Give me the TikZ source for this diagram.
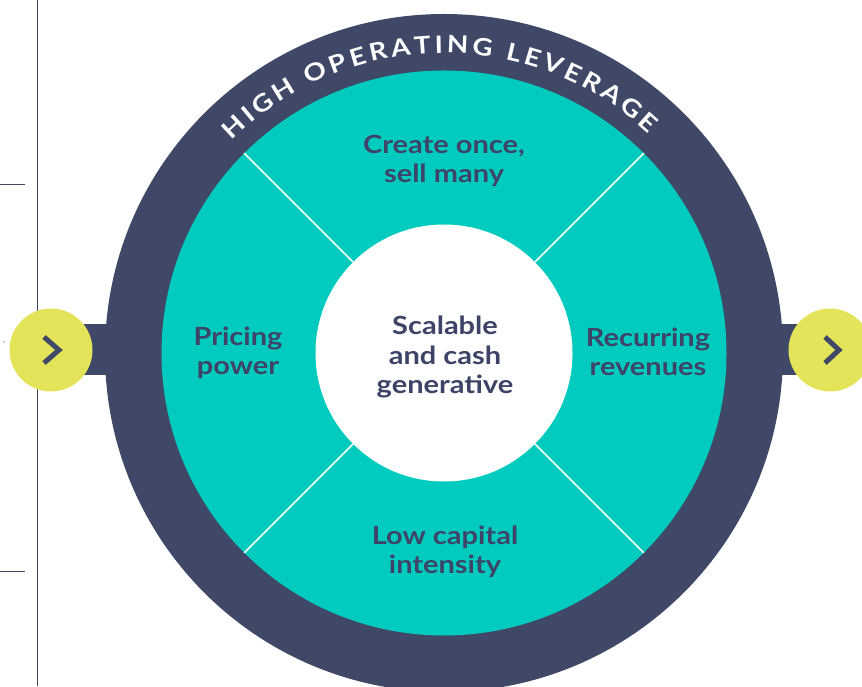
\documentclass[tikz,border=0pt]{standalone}
\usepackage{fontspec}
\setmainfont{Lato}[FakeStretch=1.16]
\usepackage{tikz}
\usetikzlibrary{positioning,decorations.text}

\definecolor{ringnavy}{HTML}{3F4866}
\definecolor{segteal}{HTML}{00CBBE}
\definecolor{btnyellow}{HTML}{E4E45A}
\definecolor{labelnavy}{HTML}{3E4468}

\newcommand\arcfont{\bfseries\fontsize{24}{24}\selectfont}

\begin{document}
\begin{tikzpicture}[x=1pt, y=1pt,
    disc/.style={circle, inner sep=0pt, outer sep=0pt, minimum size=#1},
    seglabel/.style={text=labelnavy, font=\bfseries\fontsize{25}{29.5}\selectfont, align=center},
    button/.style={circle, fill=btnyellow, inner sep=0pt, minimum size=83pt},
    chevron/.style={draw=ringnavy, line width=5pt},
    rule/.style={draw=ringnavy, line width=1pt}
]
\useasboundingbox (0,0) rectangle (862,686);

% margin rules
\draw[rule] (37,686) -- (37,0);
\draw[rule] (0,501) -- (25,501);
\draw[rule] (0,115) -- (25,115);
\node[text=ringnavy, font=\fontsize{7}{7}\selectfont] (tick) at (4,343) {,};

% bars behind the buttons
\fill[ringnavy] (80,311) rectangle (120,362);
\fill[ringnavy] (765,311) rectangle (800,362);

\node[disc=678pt, fill=ringnavy] (ring) at (444,333) {};
\node[disc=565pt, fill=segteal] (wheel) at (ring.center) {};
\node[disc=257pt, fill=white] (hub) at (ring.center) {};
\foreach \a in {45,135,225,315}
    \draw[white, line width=1.5pt] (hub.\a) -- (wheel.\a);

\path[decorate, decoration={text along path, text align={fit to path},
        text color=white, text={|\arcfont|HIGH OPERATING LEVERAGE}}]
    ([shift={(135:300)}]ring.center) arc[start angle=135, end angle=47, radius=300];

\node[seglabel] (create) at (444,525) {Create once,\\sell many};
\node[seglabel] (pricing) at (238,333) {Pricing\\power};
\node[seglabel] (scalable) at (445,329) {Scalable\\and cash\\generative};
\node[seglabel] (recurring) at (648,334) {Recurring\\revenues};
\node[seglabel] (lowcap) at (445,134) {Low capital\\intensity};

\node[button] (prev) at (51,336) {};
\node[button] (next) at (830,336) {};
\draw[chevron] ([shift={(-7,13)}]prev.center) -- ([shift={(8,0)}]prev.center) -- ([shift={(-7,-13)}]prev.center);
\draw[chevron] ([shift={(-5,13)}]next.center) -- ([shift={(9,0)}]next.center) -- ([shift={(-5,-13)}]next.center);
\end{tikzpicture}
\end{document}
